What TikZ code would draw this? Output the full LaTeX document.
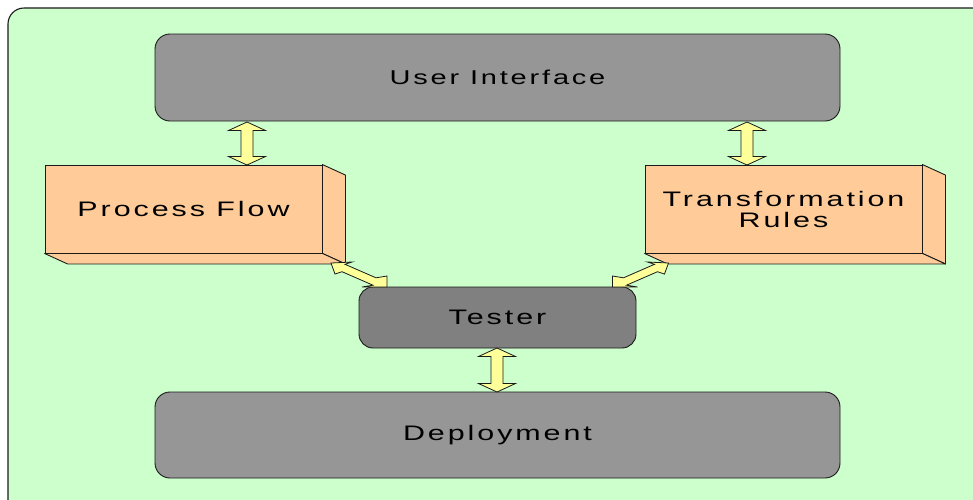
\documentclass[tikz,border=0pt]{standalone}
\usepackage{fontspec}
\newfontfamily\lblfont[FakeStretch=1.45, LetterSpace=14]{Liberation Sans}
\usetikzlibrary{calc}

\definecolor{bgreen}{HTML}{CCFFCC}
\definecolor{panelgray}{HTML}{969696}
\definecolor{testgray}{HTML}{808080}
\definecolor{boxorange}{HTML}{FFCC99}
\definecolor{arrowyellow}{HTML}{FFFF99}
\definecolor{edge}{HTML}{1A1A1A}

\tikzset{
  panel/.style={draw=edge, line width=0.9pt, fill=panelgray, rounded corners=15pt,
    minimum width=685pt, minimum height=87pt, inner sep=0pt,
    font=\lblfont\fontsize{21}{22}\selectfont},
  testbox/.style={panel, fill=testgray, minimum width=277pt, minimum height=61pt, rounded corners=14pt},
  blockface/.style={draw=edge, line width=0.9pt, fill=boxorange,
    minimum width=277pt, minimum height=88pt, inner sep=0pt, align=center,
    font=\lblfont\fontsize{21}{22}\selectfont},
  sideface/.style={draw=edge, line width=0.9pt, fill=boxorange, line join=round},
  barrow/.style={draw=edge, line width=0.8pt, fill=arrowyellow, line join=miter},
}

% vertical double block arrow between two named points (top, bottom)
\newcommand{\vdarrow}[2]{%
  \draw[barrow] (#1) -- ($(#1)+(18.5,8.5)$) -- ($(#1)+(6,8.5)$) -- ($(#2)+(6,-8.5)$)
    -- ($(#2)+(18.5,-8.5)$) -- (#2) -- ($(#2)+(-18.5,-8.5)$) -- ($(#2)+(-6,-8.5)$)
    -- ($(#1)+(-6,8.5)$) -- ($(#1)+(-18.5,8.5)$) -- cycle;}

% extrusion of a front face towards the lower right
\newcommand{\extrude}[1]{%
  \draw[sideface] (#1.north east) -- ++(23,10.5) -- ($(#1.south east)+(23,10.5)$) -- (#1.south east) -- cycle;
  \draw[sideface] (#1.south west) -- ++(23,10.5) -- ($(#1.south east)+(23,10.5)$) -- (#1.south east) -- cycle;}

\begin{document}
\begin{tikzpicture}[x=1pt, y=-1pt]
  \clip (0,0) rectangle (973,499);
  % green backdrop running off the right and bottom edges
  \draw[draw=edge, line width=1.1pt, fill=bgreen, rounded corners=16pt] (8,8) rectangle (1000,530);

  \node[panel, font=\lblfont\fontsize{20}{21}\selectfont] (ui) at (497.5,77.5) {User Interface};
  \node[panel, minimum height=86pt] (dep) at (497.5,435) {Deployment};
  \node[testbox] (tester) at (497.5,317.5) {Tester};

  \node[blockface] (pf) at (183.5,209) {Process Flow};
  \extrude{pf}
  \node[blockface] (tr) at (783.5,209) {Transformation\\[-1pt]Rules};
  \extrude{tr}

  % arrow end points
  \coordinate (uiL) at (247,122);
  \coordinate (pfT) at (247,165);
  \coordinate (uiR) at (747,122);
  \coordinate (trT) at (747,165);
  \coordinate (teB) at (497,348);
  \coordinate (depT) at (497,392);
  \coordinate (pfC) at (331,263);
  \coordinate (teL) at (387,287);
  \coordinate (trC) at (668.5,263);
  \coordinate (teR) at (612.5,287);

  \vdarrow{uiL}{pfT}
  \vdarrow{uiR}{trT}
  \vdarrow{teB}{depT}

  % slanted double arrows between the blocks and the tester
  \draw[barrow] (pfC) -- ++(21,-1) -- ++(-7,2.3) -- ++(31,13.5) -- ++(11,-1.8) -- (teL)
    -- ++(-25,0) -- ++(11,-1.8) -- ++(-31,-13.5) -- ++(-7,2.3) -- cycle;
  \draw[barrow] (trC) -- ++(-21,-1) -- ++(7,2.3) -- ++(-31,13.5) -- ++(-11,-1.8) -- (teR)
    -- ++(25,0) -- ++(-11,-1.8) -- ++(31,-13.5) -- ++(7,2.3) -- cycle;
\end{tikzpicture}
\end{document}
